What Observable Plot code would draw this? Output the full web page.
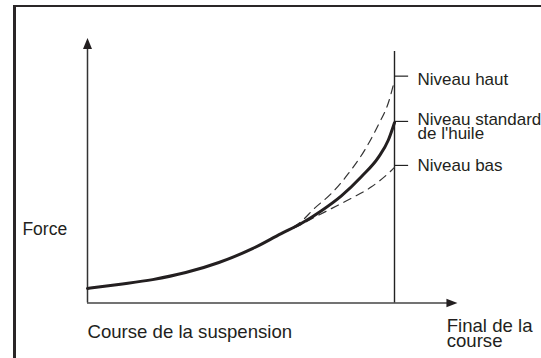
<!DOCTYPE html>
<html>
<head>
<meta charset="utf-8">
<script src="https://cdn.jsdelivr.net/npm/d3@7"></script>
<script src="https://cdn.jsdelivr.net/npm/@observablehq/plot@0.6"></script>
<style>
  html, body { margin: 0; padding: 0; background: #fff; overflow: hidden; }
  #wrap { position: relative; width: 541px; height: 358px; overflow: hidden; }
  #frame { position: absolute; left: 13px; top: 5px; width: 700px; height: 500px;
           border-left: 3px solid #2a2627; border-top: 2px solid #2a2627; box-sizing: border-box; }
  #chart { position: absolute; left: 0; top: 0; }
</style>
</head>
<body>
<div id="wrap"><div id="frame"></div><div id="chart"></div></div>
<script>
// Course de la suspension (% of total stroke) and force (relative units)
const strokePct   = [0, 10.1, 21.2, 32.0, 42.8, 53.9, 63.1, 69.6, 76.1, 82.7, 89.2, 94.8, 98.0, 100];
const forceStd    = [5.8, 7.4, 9.3, 12.1, 16.1, 21.7, 27.6, 31.6, 36.6, 42.6, 50.2, 58.0, 64.8, 71.7];
const strokeHigh  = [63.1, 69.6, 73.9, 79.4, 85.0, 90.2, 94.8, 98.0, 100];
const forceHigh   = [27.6, 32.4, 37.6, 43.5, 51.5, 60.6, 71.0, 79.6, 88.5];
const strokeLow   = [63.1, 69.6, 72.9, 79.4, 85.9, 92.5, 99.0, 100];
const forceLow    = [27.6, 31.2, 33.4, 37.5, 41.6, 46.2, 52.7, 53.9];
const levelNames  = ["Niveau haut", "Niveau standard\nde l'huile", "Niveau bas"];
const levelForce  = [90.2, 72.2, 54.7];
const levelLabelY = [86.5, 65.3, 52.4];
const axisLabels  = ["Force", "Course de la suspension", "Final de la\ncourse"];
const axisLabelX  = [-21.2, 0, 117.0];
const axisLabelY  = [27.2, -14.1, -17.3];
const axisLabelSize = [17.5, 18.6, 18.6];
const xAxisEnd = 120.5, yAxisEnd = 105.4, finalStroke = 100, finalTop = 100, tickLen = 4.6, labelOffset = 7.5;

const ink = "#231f20";
const std  = strokePct.map((x, i) => ({x, y: forceStd[i]}));
const high = strokeHigh.map((x, i) => ({x, y: forceHigh[i]}));
const low  = strokeLow.map((x, i) => ({x, y: forceLow[i]}));
const levels = levelNames.map((name, i) => ({name, y: levelForce[i], ly: levelLabelY[i]}));
const labels = axisLabels.map((t, i) => ({t, x: axisLabelX[i], y: axisLabelY[i], s: axisLabelSize[i]}));

const arrowUp = {draw(ctx) { ctx.moveTo(0, 0); ctx.lineTo(-4.5, 11); ctx.lineTo(4.5, 11); ctx.closePath(); }};
const arrowRight = {draw(ctx) { ctx.moveTo(0, 0); ctx.lineTo(-11, -4.3); ctx.lineTo(-11, 4.3); ctx.closePath(); }};

const chart = Plot.plot({
  width: 541, height: 358,
  marginLeft: 87, marginRight: 147, marginTop: 51, marginBottom: 55.5,
  x: {domain: [0, 100], axis: null},
  y: {domain: [0, 100], axis: null},
  style: {background: "transparent", fontFamily: "'Liberation Sans', Arial, sans-serif", fontSize: "17px", overflow: "visible"},
  marks: [
    Plot.ruleY([0], {x1: 0, x2: xAxisEnd - 2, stroke: "#444", strokeWidth: 1.6}),
    Plot.ruleX([0], {y1: 0, y2: yAxisEnd - 2, stroke: "#333", strokeWidth: 1.5}),
    Plot.ruleX([finalStroke], {y1: 0, y2: finalTop, stroke: "#222", strokeWidth: 1.4}),
    Plot.dot([{x: 0, y: yAxisEnd}], {x: "x", y: "y", symbol: arrowUp, fill: ink, stroke: null, r: 5}),
    Plot.dot([{x: xAxisEnd, y: 0}], {x: "x", y: "y", symbol: arrowRight, fill: ink, stroke: null, r: 5}),
    Plot.ruleY(levels, {y: "y", x1: finalStroke, x2: finalStroke + tickLen, stroke: "#222", strokeWidth: 1.2}),
    Plot.line(high, {x: "x", y: "y", curve: "monotone-x", stroke: "#333", strokeWidth: 1.2, strokeDasharray: "8,6"}),
    Plot.line(low, {x: "x", y: "y", curve: "monotone-x", stroke: "#333", strokeWidth: 1.2, strokeDasharray: "8,6"}),
    Plot.line(std, {x: "x", y: "y", curve: "monotone-x", stroke: ink, strokeWidth: 3}),
    Plot.text(levels, {x: finalStroke + labelOffset, y: "ly", text: "name", textAnchor: "start", lineAnchor: "bottom", lineHeight: 0.84, fill: ink}),
    Plot.text(labels.slice(0, 1), {x: "x", y: "y", text: "t", textAnchor: "start", lineAnchor: "bottom", fontSize: axisLabelSize[0], fill: ink}),
    Plot.text(labels.slice(1), {x: "x", y: "y", text: "t", textAnchor: "start", lineAnchor: "bottom", lineHeight: 0.77, fontSize: axisLabelSize[1], fill: ink})
  ]
});
document.getElementById("chart").appendChild(chart);
</script>
</body>
</html>
